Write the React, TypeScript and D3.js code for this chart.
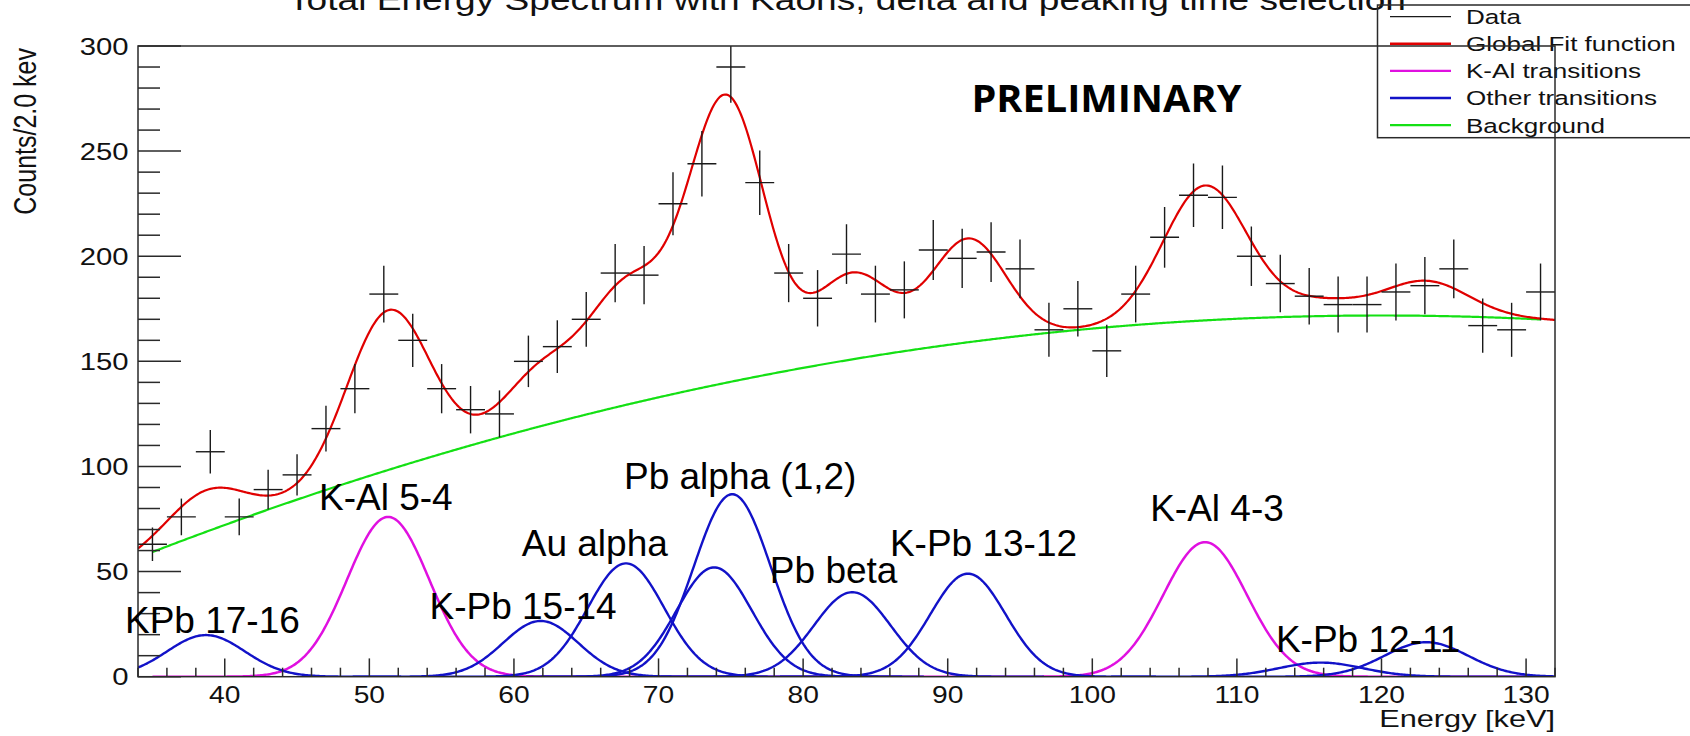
import React from "react";
import * as d3 from "d3";

// Measured spectrum: 2 keV bins
const BIN_CENTERS = [
  35, 37, 39, 41, 43, 45, 47, 49, 51, 53, 55, 57, 59, 61, 63, 65,
  67, 69, 71, 73, 75, 77, 79, 81, 83, 85, 87, 89, 91, 93, 95, 97, 99,
  101, 103, 105, 107, 109, 111, 113, 115, 117, 119, 121, 123, 125, 127, 129, 131,
];
const COUNTS = [
  63, 76, 107, 76, 89, 96, 118, 137, 182, 160, 137, 127, 125, 150, 157, 170,
  192, 191, 225, 244, 290, 235, 192, 180, 201, 182, 184, 203, 199, 202, 194, 165, 175,
  155, 182, 209, 229, 228, 200, 187, 181, 177, 177, 183, 186, 194, 167, 165, 183,
];
const BIN_WIDTH = 2;

// Fit model: quadratic background + gaussian lines
const BACKGROUND_COEFFS = [-52.4, 3.7368, -0.01557];
const PEAK_MEANS = [38.7, 51.3, 61.85, 67.75, 73.85, 75.1, 83.4, 91.4, 107.8, 115.8, 123.1];
const PEAK_AMPLITUDES = [19.8, 76.0, 26.5, 53.9, 52.0, 86.8, 40.2, 49.0, 64.0, 6.7, 16.4];
const PEAK_SIGMAS = [2.7, 2.85, 2.6, 2.65, 2.6, 2.65, 2.65, 2.6, 2.9, 2.9, 2.9];
const PEAK_FAMILIES = ["other", "kal", "other", "other", "other", "other", "other", "other", "kal", "other", "other"];

// Line annotations (anchor = start of baseline, in energy / counts)
const LABEL_TEXTS = ["KPb 17-16", "K-Al 5-4", "K-Pb 15-14", "Au alpha", "Pb alpha (1,2)", "Pb beta", "K-Pb 13-12", "K-Al 4-3", "K-Pb 12-11"];
const LABEL_ENERGIES = [33.1, 46.52, 54.16, 60.54, 67.61, 77.7, 86.0, 104.0, 112.7];
const LABEL_COUNTS = [20.8, 79.3, 27.4, 57.2, 89.1, 44.4, 57.4, 74.1, 11.9];

const X_TICKS = [40, 50, 60, 70, 80, 90, 100, 110, 120, 130];
const Y_TICKS = [0, 50, 100, 150, 200, 250, 300];

const LEGEND_ENTRIES = ["Data", "Global Fit function", "K-Al transitions", "Other transitions", "Background"];

const COLORS = {
  data: "#1a1a1a",
  fit: "#e00000",
  kal: "#e010e0",
  other: "#1212c8",
  background: "#14e014",
  frame: "#2a2a2a",
};
const LEGEND_COLORS = [COLORS.data, COLORS.fit, COLORS.kal, COLORS.other, COLORS.background];

const W = 1690;
const H = 736;
const FRAME = { left: 138, top: 46, right: 1555, bottom: 676.7 };
const ROOT_FONT = "'Liberation Sans', Arial, Helvetica, sans-serif";

const x = d3.scaleLinear().domain([34, 132]).range([FRAME.left, FRAME.right]);
const y = d3.scaleLinear().domain([0, 300]).range([FRAME.bottom, FRAME.top]);

const background = (e: number) =>
  BACKGROUND_COEFFS[0] + BACKGROUND_COEFFS[1] * e + BACKGROUND_COEFFS[2] * e * e;
const gauss = (i: number, e: number) =>
  PEAK_AMPLITUDES[i] * Math.exp(-((e - PEAK_MEANS[i]) ** 2) / (2 * PEAK_SIGMAS[i] ** 2));
const kalSum = (e: number) =>
  PEAK_MEANS.reduce((s, _, i) => (PEAK_FAMILIES[i] === "kal" ? s + gauss(i, e) : s), 0);
const globalFit = (e: number) =>
  background(e) + PEAK_MEANS.reduce((s, _, i) => s + gauss(i, e), 0);

const sample = (from: number, to: number, f: (e: number) => number) => {
  const pts: [number, number][] = [];
  const n = Math.round((to - from) / 0.1);
  for (let k = 0; k <= n; k++) {
    const e = from + ((to - from) * k) / n;
    pts.push([e, f(e)]);
  }
  return pts;
};

const line = d3
  .line<[number, number]>()
  .x((d) => x(d[0]))
  .y((d) => y(d[1]));

function StretchText(props: {
  x: number;
  y: number;
  sx: number;
  size: number;
  anchor?: string;
  children: React.ReactNode;
}) {
  return (
    <text
      transform={`translate(${props.x},${props.y}) scale(${props.sx},1)`}
      textAnchor={props.anchor || "start"}
      fontSize={props.size}
      fontFamily={ROOT_FONT}
      fill="#111"
    >
      {props.children}
    </text>
  );
}

export default function App() {
  const [e0, e1] = x.domain() as [number, number];
  const otherPaths = PEAK_MEANS.map((m, i) => {
    if (PEAK_FAMILIES[i] !== "other") return null;
    const from = Math.max(e0, m - 5 * PEAK_SIGMAS[i]);
    const to = Math.min(e1, m + 5 * PEAK_SIGMAS[i]);
    return line(sample(from, to, (e) => gauss(i, e)));
  }).filter(Boolean) as string[];

  const yMinor = d3.range(0, 300, 10).filter((v) => v % 50 !== 0);
  const xMinor = d3.range(34, 133, 2).filter((v) => v % 10 !== 0);

  return (
    <svg
      width={W}
      height={H}
      style={{ position: "absolute", left: 0, top: 0, background: "#fff" }}
    >
      <defs>
        <clipPath id="plot-area">
          <rect
            x={FRAME.left}
            y={FRAME.top}
            width={FRAME.right - FRAME.left}
            height={FRAME.bottom - FRAME.top}
          />
        </clipPath>
      </defs>
      <rect width={W} height={H} fill="#fff" />

      {/* title */}
      <StretchText x={847} y={9.5} sx={1.28} size={29} anchor="middle">
        Total Energy Spectrum with Kaons, delta and peaking time selection
      </StretchText>

      {/* legend */}
      <g>
        <rect x={1377.5} y={5} width={330} height={132.7} fill="none" stroke={COLORS.frame} strokeWidth={1.5} />
        {LEGEND_ENTRIES.map((label, i) => {
          const cy = 16.7 + i * 27.1;
          return (
            <g key={label}>
              <line
                x1={1390}
                x2={1451}
                y1={cy}
                y2={cy}
                stroke={LEGEND_COLORS[i]}
                strokeWidth={i === 0 ? 1.2 : 2.4}
              />
              <StretchText x={1466} y={cy + 7.4} sx={1.27} size={20.5}>
                {label}
              </StretchText>
            </g>
          );
        })}
      </g>

      {/* fit curves */}
      <g clipPath="url(#plot-area)" fill="none">
        <path d={line(sample(35, 131, background)) || ""} stroke={COLORS.background} strokeWidth={2.2} />
        <path d={line(sample(35, 131, kalSum)) || ""} stroke={COLORS.kal} strokeWidth={2.5} />
        {otherPaths.map((d, i) => (
          <path key={i} d={d} stroke={COLORS.other} strokeWidth={2.4} />
        ))}
        <path d={line(sample(e0, e1, globalFit)) || ""} stroke={COLORS.fit} strokeWidth={2.2} />
      </g>

      {/* data points with errors */}
      <g clipPath="url(#plot-area)" stroke={COLORS.data} strokeWidth={1.4}>
        {BIN_CENTERS.map((c, i) => {
          const n = COUNTS[i];
          const err = Math.sqrt(n);
          return (
            <g key={c}>
              <line x1={x(c - BIN_WIDTH / 2)} x2={x(c + BIN_WIDTH / 2)} y1={y(n)} y2={y(n)} />
              <line x1={x(c)} x2={x(c)} y1={y(n - err)} y2={y(n + err)} />
            </g>
          );
        })}
      </g>

      {/* axes frame and ticks */}
      <g stroke={COLORS.frame} strokeWidth={1.5}>
        <rect
          x={FRAME.left}
          y={FRAME.top}
          width={FRAME.right - FRAME.left}
          height={FRAME.bottom - FRAME.top}
          fill="none"
        />
        {Y_TICKS.map((v) => (
          <line key={"ym" + v} x1={FRAME.left} x2={FRAME.left + 43} y1={y(v)} y2={y(v)} />
        ))}
        {yMinor.map((v) => (
          <line key={"yn" + v} x1={FRAME.left} x2={FRAME.left + 22} y1={y(v)} y2={y(v)} />
        ))}
        {X_TICKS.map((v) => (
          <line key={"xm" + v} x1={x(v)} x2={x(v)} y1={FRAME.bottom} y2={FRAME.bottom - 18.3} />
        ))}
        {xMinor.map((v) => (
          <line key={"xn" + v} x1={x(v)} x2={x(v)} y1={FRAME.bottom} y2={FRAME.bottom - 9} />
        ))}
      </g>

      {/* tick labels */}
      {Y_TICKS.map((v) => (
        <StretchText key={"yl" + v} x={128.5} y={y(v) + 8.6} sx={1.22} size={24} anchor="end">
          {v}
        </StretchText>
      ))}
      {X_TICKS.map((v) => (
        <StretchText key={"xl" + v} x={x(v)} y={703} sx={1.2} size={23.5} anchor="middle">
          {v}
        </StretchText>
      ))}

      {/* axis titles */}
      <StretchText x={1555} y={727} sx={1.28} size={24} anchor="end">
        Energy [keV]
      </StretchText>
      <text
        transform="translate(36,48) scale(1.27,1) rotate(-90)"
        textAnchor="end"
        fontSize={25}
        fontFamily={ROOT_FONT}
        fill="#111"
      >
        Counts/2.0 kev
      </text>

      {/* transition labels */}
      {LABEL_TEXTS.map((t, i) => (
        <text
          key={t}
          x={x(LABEL_ENERGIES[i])}
          y={y(LABEL_COUNTS[i])}
          fontSize={37}
          fontFamily={ROOT_FONT}
          fill="#000"
        >
          {t}
        </text>
      ))}

      <text
        x={x(91.64)}
        y={y(268.8)}
        fontSize={38}
        fontWeight={700}
        fontFamily="'Open Sans', 'Noto Sans', sans-serif"
        textLength={270}
        lengthAdjust="spacingAndGlyphs"
        fill="#000"
      >
        PRELIMINARY
      </text>
    </svg>
  );
}
